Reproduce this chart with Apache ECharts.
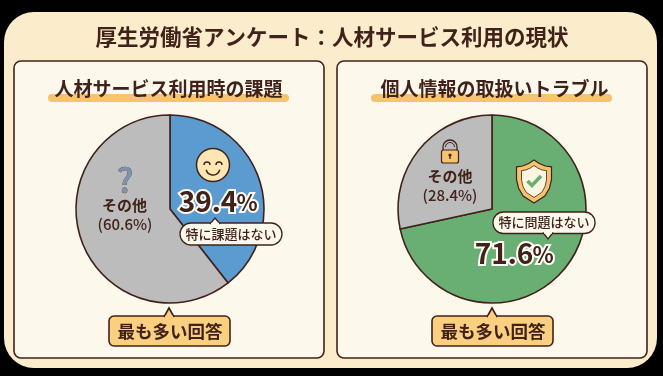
<!DOCTYPE html>
<html lang="ja" style="height: 100%">

<head>
  <meta charset="utf-8">
</head>

<body style="height: 100%; margin: 0; background: #000">
  <div id="container" style="width: 663px; height: 376px"></div>

  <script type="text/javascript" src="https://cdn.jsdelivr.net/npm/echarts@6/dist/echarts.min.js"></script>

  <script type="text/javascript">
    var pageTitle = '厚生労働省アンケート：人材サービス利用の現状';
    var panelTitles = ['人材サービス利用時の課題', '個人情報の取扱いトラブル'];
    var issueNames = ['特に課題はない', 'その他'];
    var issueValues = [39.4, 60.6];
    var troubleNames = ['特に問題はない', 'その他'];
    var troubleValues = [71.6, 28.4];
    var badgeText = '最も多い回答';

    var FONT = '"Noto Sans CJK JP"';
    var INK = '#41221a';

    var dom = document.getElementById('container');
    var myChart = echarts.init(dom, null, { renderer: 'canvas' });

    function txt(x, y, text, size, opt) {
      opt = opt || {};
      return {
        type: 'text', x: x, y: y, z: opt.z || 20,
        style: {
          text: text, fontFamily: FONT, fontSize: size, fontWeight: opt.weight || 'bold',
          fill: opt.fill || INK, align: 'center', verticalAlign: 'middle',
          stroke: opt.stroke, lineWidth: opt.lineWidth || 0
        }
      };
    }

    function box(x, y, w, h, r, fill, stroke, lw, z) {
      return {
        type: 'rect', z: z || 1,
        shape: { x: x, y: y, width: w, height: h, r: r },
        style: { fill: fill, stroke: stroke, lineWidth: lw || 0 }
      };
    }

    // callout with a small tail, tailY is the tip of the tail
    function bubble(x, y, w, h, r, tailX, tailY, fill, lw) {
      var baseY = tailY < y ? y + 1 : y + h - 1;
      return [
        box(x, y, w, h, r, fill, INK, lw, 12),
        {
          type: 'polyline', z: 13,
          shape: { points: [[tailX - 5, baseY], [tailX, tailY], [tailX + 5, baseY]] },
          style: { fill: fill, stroke: INK, lineWidth: lw }
        },
        {
          type: 'line', z: 14,
          shape: { x1: tailX - 4, y1: baseY, x2: tailX + 4, y2: baseY },
          style: { stroke: fill, lineWidth: 2.5 }
        }
      ];
    }

    function panel(x, title, titleMid, titleSize) {
      var mid = x + 155;
      return [
        box(x, 61, 310, 297, 7, '#fdf8ec', INK, 1.6, 2),
        box(mid - 121, 94, 241, 8, 4, '#f6c36f', null, 0, 3),
        txt(titleMid, 88.5, title, titleSize, { z: 4 })
      ].concat(bubble(mid - 60, 316, 121, 30, 5, mid, 308, '#fbcf80', 1.6));
    }

    function smile() {
      return [
        { type: 'circle', z: 15, shape: { cx: 213, cy: 165, r: 16.5 }, style: { fill: '#fbe6b4', stroke: INK, lineWidth: 1.5 } },
        { type: 'arc', z: 16, shape: { cx: 207, cy: 165, r: 3, startAngle: Math.PI, endAngle: 2 * Math.PI }, style: { fill: null, stroke: INK, lineWidth: 1.4 } },
        { type: 'arc', z: 16, shape: { cx: 219, cy: 165, r: 3, startAngle: Math.PI, endAngle: 2 * Math.PI }, style: { fill: null, stroke: INK, lineWidth: 1.4 } },
        { type: 'arc', z: 16, shape: { cx: 213, cy: 168, r: 7, startAngle: 0.25, endAngle: Math.PI - 0.25, clockwise: true }, style: { fill: null, stroke: INK, lineWidth: 1.5 } }
      ];
    }

    function padlock() {
      return [
        { type: 'arc', z: 15, shape: { cx: 450, cy: 147, r: 7, startAngle: Math.PI, endAngle: 2 * Math.PI }, style: { fill: null, stroke: INK, lineWidth: 1.3 } },
        { type: 'arc', z: 15, shape: { cx: 450, cy: 147, r: 4.5, startAngle: Math.PI, endAngle: 2 * Math.PI }, style: { fill: null, stroke: INK, lineWidth: 1 } },
        { type: 'line', z: 15, shape: { x1: 443, y1: 147, x2: 443, y2: 151 }, style: { stroke: INK, lineWidth: 1.3 } },
        { type: 'line', z: 15, shape: { x1: 457, y1: 147, x2: 457, y2: 151 }, style: { stroke: INK, lineWidth: 1.3 } },
        box(441.5, 150, 17, 13, 2, '#f6c36f', INK, 1.2, 16),
        { type: 'circle', z: 17, shape: { cx: 450, cy: 155, r: 1.6 }, style: { fill: INK } },
        { type: 'line', z: 17, shape: { x1: 450, y1: 155, x2: 450, y2: 159 }, style: { stroke: INK, lineWidth: 1.3 } }
      ];
    }

    function shieldPoints(cx, top, halfW, h) {
      // drawn icon, not data
      var outline = [[0, 0], [0.3, 0.08], [0.65, 0.14], [1, 0.16], [1, 0.45], [0.88, 0.66], [0.62, 0.84], [0, 1]];
      var right = outline.map(function (p) { return [cx + p[0] * halfW, top + p[1] * h]; });
      var left = outline.slice(1, -1).reverse().map(function (p) { return [cx - p[0] * halfW, top + p[1] * h]; });
      return right.concat(left);
    }

    function shield() {
      return [
        { type: 'polygon', z: 15, shape: { points: shieldPoints(534, 160, 17.5, 43) }, style: { fill: '#f6c36f', stroke: INK, lineWidth: 1.2 } },
        { type: 'polygon', z: 16, shape: { points: shieldPoints(534, 165.5, 12.5, 32) }, style: { fill: '#fdf5e2', stroke: INK, lineWidth: 0.8 } },
        {
          type: 'polyline', z: 17,
          shape: { points: [[527.5, 181], [532, 185.5], [541, 176]] },
          style: { fill: null, stroke: '#69ae72', lineWidth: 3.6 }
        }
      ];
    }

    var leftCenter = [170, 209];
    var rightCenter = [492, 209];

    function pieSeries(center, names, values, colors) {
      return {
        type: 'pie',
        center: center,
        radius: [0, 94],
        startAngle: 90,
        clockwise: true,
        silent: true,
        animation: false,
        z: 5,
        label: { show: false },
        labelLine: { show: false },
        itemStyle: { borderColor: INK, borderWidth: 1.6 },
        data: names.map(function (name, i) {
          return { name: name, value: values[i], itemStyle: { color: colors[i] } };
        })
      };
    }

    var haloed = { stroke: '#fffdf6', lineWidth: 4 };

    var graphics = [
      box(4, 12, 653, 356, 30, '#fbeccb', null, 0, 0),
      txt(332, 36.5, pageTitle, 21.5)
    ].concat(
      panel(14, panelTitles[0], 168.5, 19),
      panel(337, panelTitles[1], 494.5, 19),
      smile(),
      padlock(),
      shield(),
      bubble(180, 223, 102, 22, 11, 215, 218, '#fdf8ec', 1.3),
      bubble(493, 212, 102, 21.5, 10.5, 548, 239, '#fdf8ec', 1.3),
      [
        txt(231, 234, issueNames[0], 13, { weight: 500 }),
        txt(544, 222.5, troubleNames[0], 13, { weight: 500 }),
        txt(208, 201.5, String(issueValues[0]), 28, haloed),
        txt(247, 203, '%', 22, haloed),
        txt(504, 253.5, String(troubleValues[0]), 28, haloed),
        txt(543, 255, '%', 22, haloed),
        txt(125, 180, '?', 33, { fill: '#7d94b0', stroke: INK, lineWidth: 0.5, weight: 500 }),
        txt(124.5, 205, issueNames[1], 15),
        txt(125, 224, '(' + issueValues[1] + '%)', 15, { weight: 500 }),
        txt(450, 176, troubleNames[1], 15),
        txt(450, 195, '(' + troubleValues[1] + '%)', 15, { weight: 500 }),
        txt(170, 331, badgeText, 17.5),
        txt(493, 331, badgeText, 17.5)
      ]
    );

    var option = {
      backgroundColor: '#000',
      animation: false,
      graphic: { elements: graphics },
      series: [
        pieSeries(leftCenter, issueNames, issueValues, ['#5b9bd0', '#bcbcbc']),
        pieSeries(rightCenter, troubleNames, troubleValues, ['#69ae72', '#bcbcbc'])
      ]
    };
    myChart.setOption(option);

    window.addEventListener('resize', myChart.resize);
  </script>
</body>

</html>
